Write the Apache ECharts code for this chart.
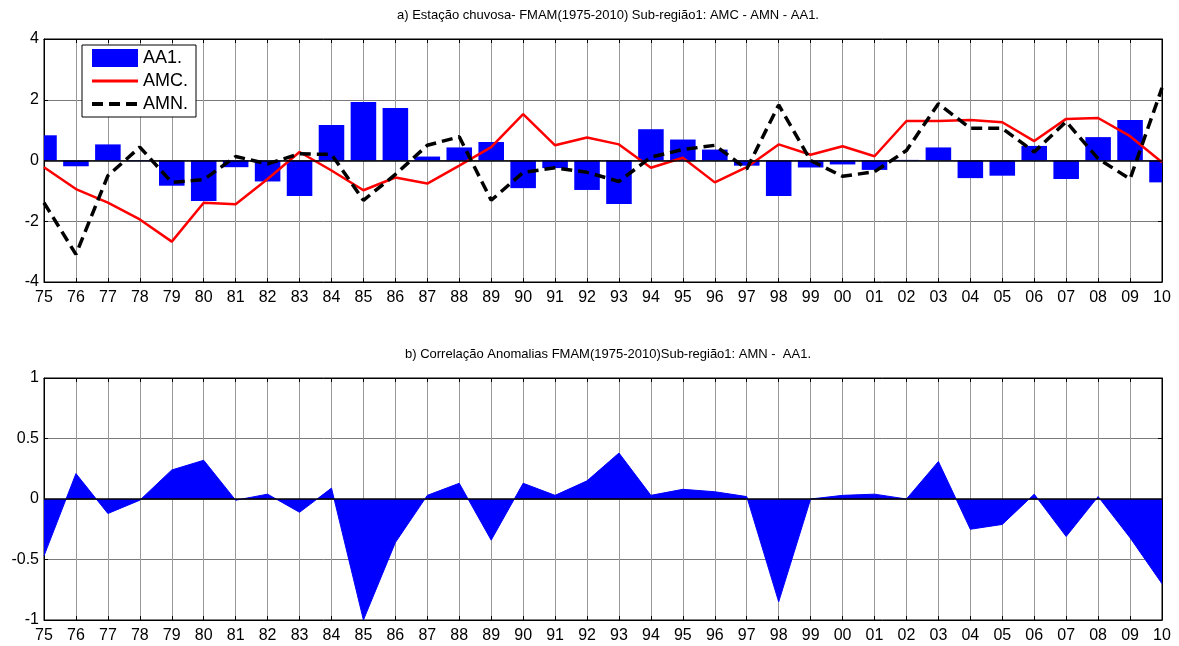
<!DOCTYPE html>
<html>
<head>
<meta charset="utf-8">
<script src="https://cdn.jsdelivr.net/npm/echarts@6/dist/echarts.min.js"></script>
<style>
html,body{margin:0;padding:0;background:#fff;}
#chart{width:1179px;height:646px;}
</style>
</head>
<body>
<div id="chart"></div>
<script>
// ---- data ----
const years = [1975,1976,1977,1978,1979,1980,1981,1982,1983,1984,1985,1986,1987,1988,1989,1990,1991,1992,1993,1994,1995,1996,1997,1998,1999,2000,2001,2002,2003,2004,2005,2006,2007,2008,2009,2010];
const AA1 = [0.83,-0.19,0.53,-0.02,-0.83,-1.33,-0.22,-0.69,-1.17,1.17,1.93,1.73,0.13,0.43,0.61,-0.91,-0.25,-0.97,-1.43,1.03,0.69,0.36,-0.17,-1.17,-0.23,-0.13,-0.31,0.02,0.43,-0.58,-0.50,0.48,-0.61,0.77,1.33,-0.72];
const AMC = [-0.22,-0.94,-1.39,-1.94,-2.67,-1.39,-1.44,-0.61,0.28,-0.33,-0.98,-0.56,-0.76,-0.17,0.44,1.53,0.50,0.76,0.53,-0.24,0.09,-0.72,-0.22,0.53,0.19,0.47,0.14,1.30,1.30,1.33,1.26,0.64,1.37,1.40,0.80,-0.06];
const AMN = [-1.39,-3.09,-0.50,0.44,-0.72,-0.63,0.13,-0.11,0.22,0.20,-1.31,-0.46,0.50,0.78,-1.31,-0.39,-0.24,-0.39,-0.69,0.11,0.36,0.50,-0.28,1.83,0.00,-0.52,-0.37,0.33,1.87,1.06,1.06,0.28,1.28,0.06,-0.61,2.39];
const CORR = [-0.47,0.21,-0.12,-0.01,0.24,0.32,-0.01,0.04,-0.11,0.09,-1.00,-0.36,0.03,0.13,-0.34,0.13,0.03,0.15,0.38,0.03,0.08,0.06,0.02,-0.85,0.00,0.03,0.04,0.00,0.31,-0.25,-0.21,0.04,-0.31,0.02,-0.32,-0.70];
const titleA = 'a) Estação chuvosa- FMAM(1975-2010) Sub-região1: AMC - AMN - AA1.';
const titleB = 'b) Correlação Anomalias FMAM(1975-2010)Sub-região1: AMN -  AA1.';
const yTicksA = [-4,-2,0,2,4];
const yTicksB = [-1,-0.5,0,0.5,1];

const pair = arr => arr.map((v,i)=>[years[i], v]);
const FONT = "'Liberation Sans', Arial, sans-serif";
const xLabel = v => String(v).slice(2);

const chart = echarts.init(document.getElementById('chart'), null, {renderer:'canvas'});

function xAxes(gi){
  return [
    {type:'value', gridIndex:gi, position:'bottom', min:years[0], max:years[years.length-1], interval:1,
     axisLine:{show:true, onZero:false, lineStyle:{color:'#000', width:1}},
     axisTick:{show:true, inside:true, length:4, lineStyle:{color:'#000'}},
     axisLabel:{show:true, formatter:xLabel, color:'#000', fontSize:16, fontFamily:FONT, margin:8},
     splitLine:{show:true, lineStyle:{color:'#999999', width:1}}},
    {type:'value', gridIndex:gi, position:'top', min:years[0], max:years[years.length-1], interval:1,
     axisLine:{show:true, onZero:false, lineStyle:{color:'#000', width:1}},
     axisTick:{show:true, inside:true, length:4, lineStyle:{color:'#000'}},
     axisLabel:{show:false}, splitLine:{show:false}}
  ];
}
function yAxes(gi, ticks, fmt){
  const mn = ticks[0], mx = ticks[ticks.length-1], iv = ticks[1]-ticks[0];
  return [
    {type:'value', gridIndex:gi, position:'left', min:mn, max:mx, interval:iv,
     axisLine:{show:true, lineStyle:{color:'#000', width:1}},
     axisTick:{show:true, inside:true, length:4, lineStyle:{color:'#000'}},
     axisLabel:{show:true, color:'#000', fontSize:16, fontFamily:FONT, margin:5, formatter:fmt},
     splitLine:{show:true, lineStyle:{color:'#7a7a7a', width:1}}},
    {type:'value', gridIndex:gi, position:'right', min:mn, max:mx, interval:iv,
     axisLine:{show:true, lineStyle:{color:'#000', width:1}},
     axisTick:{show:true, inside:true, length:4, lineStyle:{color:'#000'}},
     axisLabel:{show:false}, splitLine:{show:false}}
  ];
}

const zeroLine = {silent:true, symbol:'none', label:{show:false},
  lineStyle:{color:'#000', width:1.5, type:'solid'}, data:[{yAxis:0}]};

function renderBar(params, api){
  const x = api.value(0), y = api.value(1);
  const p0 = api.coord([x, 0]);
  const p1 = api.coord([x, y]);
  const w = api.size([1, 0])[0] * 0.8;
  const rect = {x: p0[0] - w/2, y: Math.min(p0[1], p1[1]), width: w, height: Math.abs(p1[1] - p0[1])};
  const cs = params.coordSys;
  const clipped = echarts.graphic.clipRectByRect(rect, {x: cs.x, y: cs.y, width: cs.width, height: cs.height});
  if (!clipped) return null;
  return {type:'rect', shape: clipped, style: {fill:'#0000ff'}};
}

const hideSym = {color:'rgba(0,0,0,0)', borderColor:'rgba(0,0,0,0)', borderWidth:0};

const option = {
  animation:false,
  backgroundColor:'#fff',
  textStyle:{fontFamily:FONT},
  title:[
    {text:titleA, left:603, top:4, textAlign:'center',
     textStyle:{fontSize:13, fontWeight:'normal', color:'#000', fontFamily:FONT}},
    {text:titleB, left:603, top:343, textAlign:'center',
     textStyle:{fontSize:13, fontWeight:'normal', color:'#000', fontFamily:FONT}}
  ],
  legend:{
    show:true, orient:'vertical', left:82, top:45,
    padding:[4,8,4,8], itemGap:5, itemWidth:46, itemHeight:18,
    backgroundColor:'#fff', borderColor:'#000', borderWidth:1, borderRadius:0,
    textStyle:{fontSize:18, color:'#000', fontFamily:FONT},
    data:[{name:'AA1.', icon:'rect', itemStyle:{color:'#0000ff'}},
          {name:'AMC.', itemStyle:hideSym, lineStyle:{color:'#ff0000', width:3}},
          {name:'AMN.', itemStyle:hideSym, lineStyle:{color:'#000', width:4, type:[11,6]}}]
  },
  grid:[
    {left:44, right:17, top:39, height:243, show:true, borderColor:'#000', borderWidth:1, backgroundColor:'transparent'},
    {left:44, right:17, top:378, height:242, show:true, borderColor:'#000', borderWidth:1, backgroundColor:'transparent'}
  ],
  xAxis:[...xAxes(0), ...xAxes(1)],
  yAxis:[...yAxes(0, yTicksA, v=>String(v)), ...yAxes(1, yTicksB, v=>String(v))],
  series:[
    {name:'AA1.', type:'custom', xAxisIndex:0, yAxisIndex:0, data:pair(AA1),
     renderItem:renderBar, encode:{x:0, y:1}, itemStyle:{color:'#0000ff'}, z:2},
    {name:'AMC.', type:'line', xAxisIndex:0, yAxisIndex:0, data:pair(AMC), symbol:'none',
     lineStyle:{color:'#ff0000', width:2.5}, itemStyle:{color:'#ff0000'}, markLine:zeroLine, z:3},
    {name:'AMN.', type:'line', xAxisIndex:0, yAxisIndex:0, data:pair(AMN), symbol:'none',
     lineStyle:{color:'#000', width:3.5, type:[11,6]}, itemStyle:{color:'#000'}, z:4},
    {name:'corr', type:'line', xAxisIndex:2, yAxisIndex:2, data:pair(CORR), symbol:'none',
     lineStyle:{color:'#0000ff', width:1}, areaStyle:{color:'#0000ff', opacity:1},
     itemStyle:{color:'#0000ff'}, markLine:zeroLine, z:2}
  ]
};
chart.setOption(option);
</script>
</body>
</html>
